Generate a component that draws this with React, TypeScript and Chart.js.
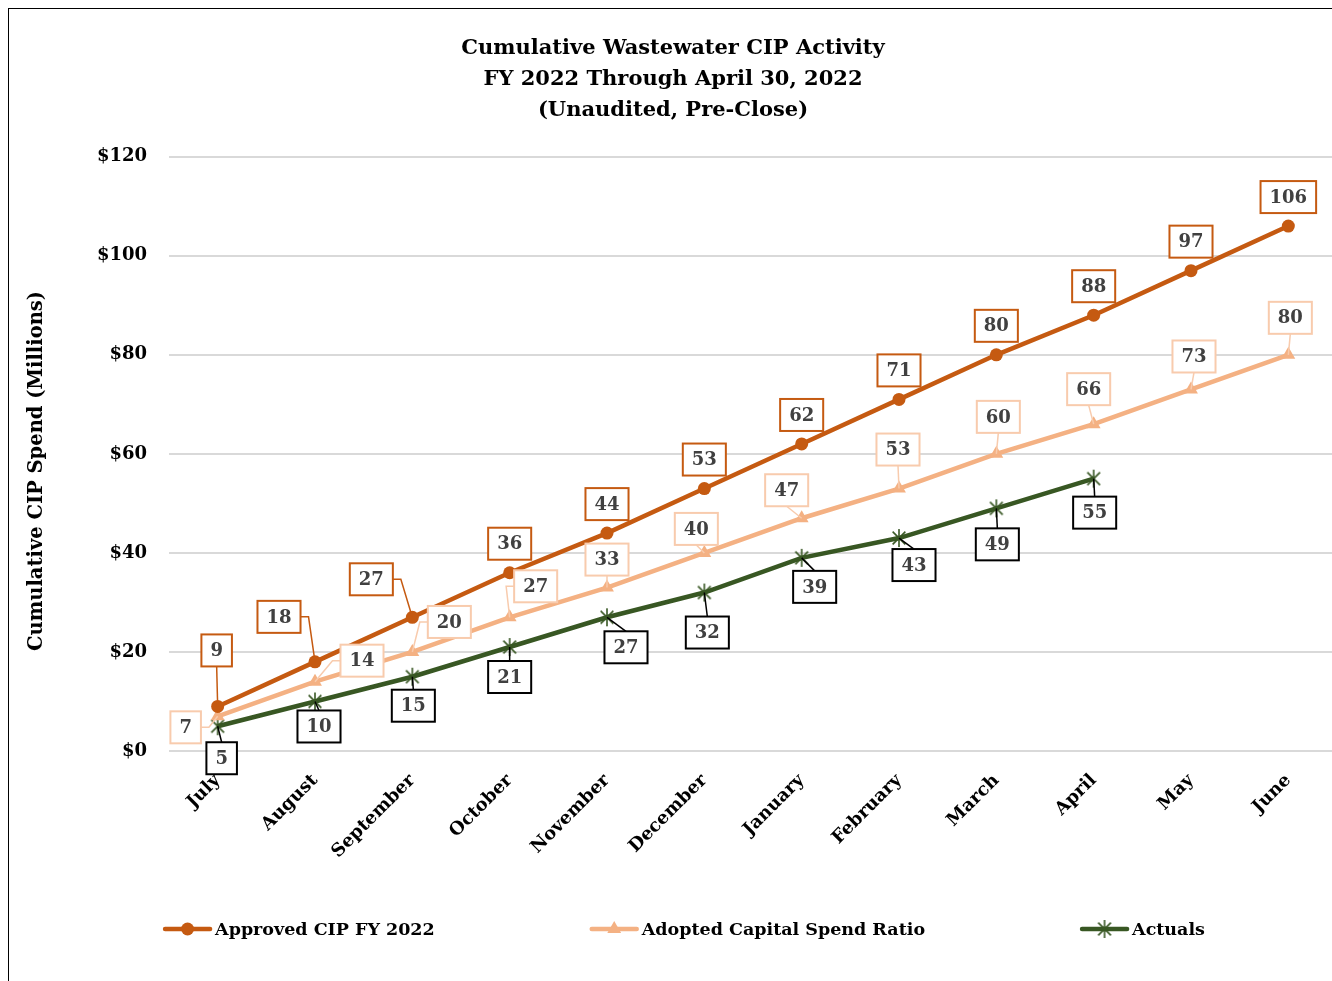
import React, { useEffect, useRef } from "react";
import { Chart, registerables } from "chart.js";

Chart.register(...registerables);

// ---------- data ----------
const MONTHS = ["July", "August", "September", "October", "November", "December", "January", "February", "March", "April", "May", "June"];
const APPROVED = [9, 18, 27, 36, 44, 53, 62, 71, 80, 88, 97, 106];
const ADOPTED = [7, 14, 20, 27, 33, 40, 47, 53, 60, 66, 73, 80];
const ACTUALS: (number | null)[] = [5, 10, 15, 21, 27, 32, 39, 43, 49, 55, null, null];
const Y_TICKS = [0, 20, 40, 60, 80, 100, 120];
const SERIES_NAMES = ["Approved CIP FY 2022", "Adopted Capital Spend Ratio", "Actuals"];
const TITLE_LINES = ["Cumulative Wastewater CIP Activity", "FY 2022 Through April 30, 2022", "(Unaudited, Pre-Close)"];
const Y_TITLE = "Cumulative CIP Spend (Millions)";

// ---------- label layout (offset of label box centre from its point, px) ----------
const APPROVED_LABEL_OFFSETS = [[-1, -56], [-36, -45], [-41, -38], [0, -29], [0, -29], [0, -29], [0, -29], [0, -29], [0, -29], [0, -29], [0, -29], [0, -29]];
const ADOPTED_LABEL_OFFSETS = [[-32, 11], [47, -21], [37, -30], [26, -31], [0, -28], [-8, -24], [-15, -28], [-1, -39], [2, -37], [-5, -35], [3, -33], [2, -37]];
const ACTUALS_LABEL_OFFSETS = [[4, 32], [4, 25], [1, 29], [0, 30], [19, 30], [3, 40], [13, 29], [15, 27], [1, 36], [1, 34]];
const APPROVED_LEADERS = [1, 1, 1, 0, 0, 0, 0, 0, 0, 0, 0, 0];
const ADOPTED_LEADERS = [1, 1, 1, 1, 1, 1, 1, 1, 1, 1, 1, 1];
const ACTUALS_LEADERS = [1, 1, 1, 1, 1, 1, 1, 1, 1, 1];

// ---------- styles ----------
const FONT = "'DejaVu Serif', 'Liberation Serif', serif";
const C_APPROVED = "#C55A11";
const C_ADOPTED = "#F4B183";
const C_ADOPTED_LABEL = "#F8CBAD";
const C_ACTUALS = "#385723";
const C_LABEL_TEXT = "#404040";

function makeStar(color: string, r: number) {
  const size = Math.ceil(r * 2 + 4);
  const c = document.createElement("canvas");
  c.width = size;
  c.height = size;
  const g = c.getContext("2d")!;
  const m = size / 2;
  g.strokeStyle = color;
  g.lineWidth = 1.6;
  const d = r * Math.SQRT1_2;
  g.beginPath();
  g.moveTo(m - d, m - d); g.lineTo(m + d, m + d);
  g.moveTo(m + d, m - d); g.lineTo(m - d, m + d);
  g.moveTo(m, m - r); g.lineTo(m, m + r);
  g.stroke();
  return c;
}

function drawMarker(ctx: CanvasRenderingContext2D, kind: string, x: number, y: number, color: string, star: HTMLCanvasElement) {
  ctx.save();
  ctx.fillStyle = color;
  if (kind === "circle") {
    ctx.beginPath();
    ctx.arc(x, y, 6.5, 0, Math.PI * 2);
    ctx.fill();
  } else if (kind === "triangle") {
    const r = 8;
    ctx.beginPath();
    ctx.moveTo(x, y - r);
    ctx.lineTo(x + r * 0.866, y + r * 0.5);
    ctx.lineTo(x - r * 0.866, y + r * 0.5);
    ctx.closePath();
    ctx.fill();
  } else {
    ctx.drawImage(star, x - star.width / 2, y - star.height / 2);
  }
  ctx.restore();
}

export default function App() {
  const ref = useRef<HTMLCanvasElement>(null);

  useEffect(() => {
    const canvas = ref.current!;
    const star = makeStar(C_ACTUALS, 9);

    const labelCfg = [
      { offsets: APPROVED_LABEL_OFFSETS, leaders: APPROVED_LEADERS, border: C_APPROVED },
      { offsets: ADOPTED_LABEL_OFFSETS, leaders: ADOPTED_LEADERS, border: C_ADOPTED_LABEL },
      { offsets: ACTUALS_LABEL_OFFSETS, leaders: ACTUALS_LEADERS, border: "#000000" },
    ];

    const labelsPlugin = {
      id: "boxLabels",
      afterDatasetsDraw(chart: any) {
        const ctx: CanvasRenderingContext2D = chart.ctx;
        ctx.save();
        ctx.font = `bold 18px ${FONT}`;
        ctx.textAlign = "center";
        ctx.textBaseline = "middle";
        chart.data.datasets.forEach((ds: any, i: number) => {
          const meta = chart.getDatasetMeta(i);
          const cfg = labelCfg[i];
          ds.data.forEach((v: number | null, j: number) => {
            if (v === null || v === undefined) return;
            const el = meta.data[j];
            const off = cfg.offsets[j];
            if (!el || !off) return;
            const px = el.x, py = el.y;
            const bx = px + off[0], by = py + off[1];
            const text = String(Math.round(v));
            const bw = ctx.measureText(text).width + 18;
            const bh = 32;
            const l = bx - bw / 2, r = bx + bw / 2, t = by - bh / 2, b = by + bh / 2;
            if (cfg.leaders[j]) {
              ctx.strokeStyle = cfg.border;
              ctx.lineWidth = 1.5;
              ctx.beginPath();
              if (px >= l && px <= r) {
                const ey = py > b ? b : t;
                ctx.moveTo(bx, ey);
                ctx.lineTo(px, py);
              } else {
                const sx = px < l ? l : r;
                const stub = px < l ? -8 : 8;
                ctx.moveTo(sx, by);
                ctx.lineTo(sx + stub, by);
                ctx.lineTo(px, py);
              }
              ctx.stroke();
            }
            ctx.fillStyle = "#FFFFFF";
            ctx.fillRect(l, t, bw, bh);
            ctx.strokeStyle = cfg.border;
            ctx.lineWidth = 2;
            ctx.strokeRect(l, t, bw, bh);
            ctx.fillStyle = C_LABEL_TEXT;
            ctx.fillText(text, bx, by + 1);
          });
        });
        ctx.restore();
      },
    };

    const extrasPlugin = {
      id: "extras",
      afterDraw(chart: any) {
        const ctx: CanvasRenderingContext2D = chart.ctx;
        // y axis title
        ctx.save();
        ctx.font = `bold 19.5px ${FONT}`;
        ctx.fillStyle = "#000";
        ctx.textAlign = "center";
        ctx.textBaseline = "middle";
        ctx.translate(28, 462);
        ctx.rotate(-Math.PI / 2);
        ctx.fillText(Y_TITLE, 0, 0);
        ctx.restore();

        // legend
        ctx.save();
        ctx.font = `bold 17.5px ${FONT}`;
        ctx.textBaseline = "middle";
        ctx.textAlign = "left";
        const sample = 49, gapText = 3, gapItems = 155;
        const kinds = ["circle", "triangle", "star"];
        const colors = [C_APPROVED, C_ADOPTED, C_ACTUALS];
        const widths = SERIES_NAMES.map((n) => sample + gapText + ctx.measureText(n).width);
        const total = widths.reduce((a, b) => a + b, 0) + gapItems * (widths.length - 1);
        let x = chart.width / 2 - total / 2;
        const y = 920;
        SERIES_NAMES.forEach((n, i) => {
          ctx.strokeStyle = colors[i];
          ctx.lineWidth = 4.5;
          ctx.lineCap = "round";
          ctx.beginPath();
          ctx.moveTo(x + 2, y);
          ctx.lineTo(x + sample - 2, y);
          ctx.stroke();
          drawMarker(ctx, kinds[i], x + sample / 2, y, colors[i], star);
          ctx.fillStyle = "#000";
          ctx.fillText(n, x + sample + gapText, y + 1);
          x += widths[i] + gapItems;
        });
        ctx.restore();
      },
    };

    const chart = new Chart(canvas, {
      type: "line",
      data: {
        labels: MONTHS,
        datasets: [
          {
            label: SERIES_NAMES[0],
            data: APPROVED,
            borderColor: C_APPROVED,
            backgroundColor: C_APPROVED,
            borderWidth: 4.5,
            pointStyle: "circle",
            pointRadius: 6.5,
            pointBorderWidth: 0,
            tension: 0,
          },
          {
            label: SERIES_NAMES[1],
            data: ADOPTED,
            borderColor: C_ADOPTED,
            backgroundColor: C_ADOPTED,
            borderWidth: 4.5,
            pointStyle: "triangle",
            pointRadius: 8,
            pointBorderWidth: 0,
            tension: 0,
          },
          {
            label: SERIES_NAMES[2],
            data: ACTUALS,
            borderColor: C_ACTUALS,
            backgroundColor: C_ACTUALS,
            borderWidth: 4.5,
            pointStyle: star as any,
            pointRadius: 9,
            tension: 0,
            spanGaps: false,
          },
        ],
      },
      options: {
        animation: false,
        responsive: false,
        maintainAspectRatio: false,
        devicePixelRatio: 1,
        layout: { padding: { left: 0, right: 22, top: 0, bottom: 88 } },
        plugins: {
          legend: { display: false },
          tooltip: { enabled: false },
          title: {
            display: true,
            text: TITLE_LINES,
            color: "#000",
            font: { family: FONT, size: 21, weight: "bold", lineHeight: 1.48 },
            padding: { top: 24, bottom: 30.5 },
          },
        },
        scales: {
          x: {
            offset: true,
            grid: { display: false, drawTicks: false },
            border: { display: false },
            ticks: {
              autoSkip: false,
              minRotation: 45,
              maxRotation: 45,
              padding: 19,
              color: "#000",
              font: { family: FONT, size: 18, weight: "bold" },
            },
            afterFit: (s: any) => {
              s.height = 150;
            },
          },
          y: {
            min: 0,
            max: 120,
            afterBuildTicks: (s: any) => {
              s.ticks = Y_TICKS.map((v) => ({ value: v }));
            },
            grid: { color: "#D9D9D9", lineWidth: 2, drawTicks: false },
            border: { display: false },
            ticks: {
              padding: 22,
              color: "#000",
              font: { family: FONT, size: 18, weight: "bold" },
              callback: (v: any) => "$" + v,
            },
            afterFit: (s: any) => {
              s.width = 160;
            },
          },
        },
      },
      plugins: [labelsPlugin, extrasPlugin],
    });
    return () => chart.destroy();
  }, []);

  return (
    <div style={{ position: "fixed", left: 0, top: 0, width: 1332, height: 981, overflow: "hidden", background: "#fff" }}>
      <div style={{ position: "absolute", left: 8, top: 8, width: 1350, height: 980, border: "1px solid #000", boxSizing: "content-box" }}>
        <canvas ref={ref} width={1350} height={980} style={{ display: "block", width: 1350, height: 980 }} />
      </div>
    </div>
  );
}
